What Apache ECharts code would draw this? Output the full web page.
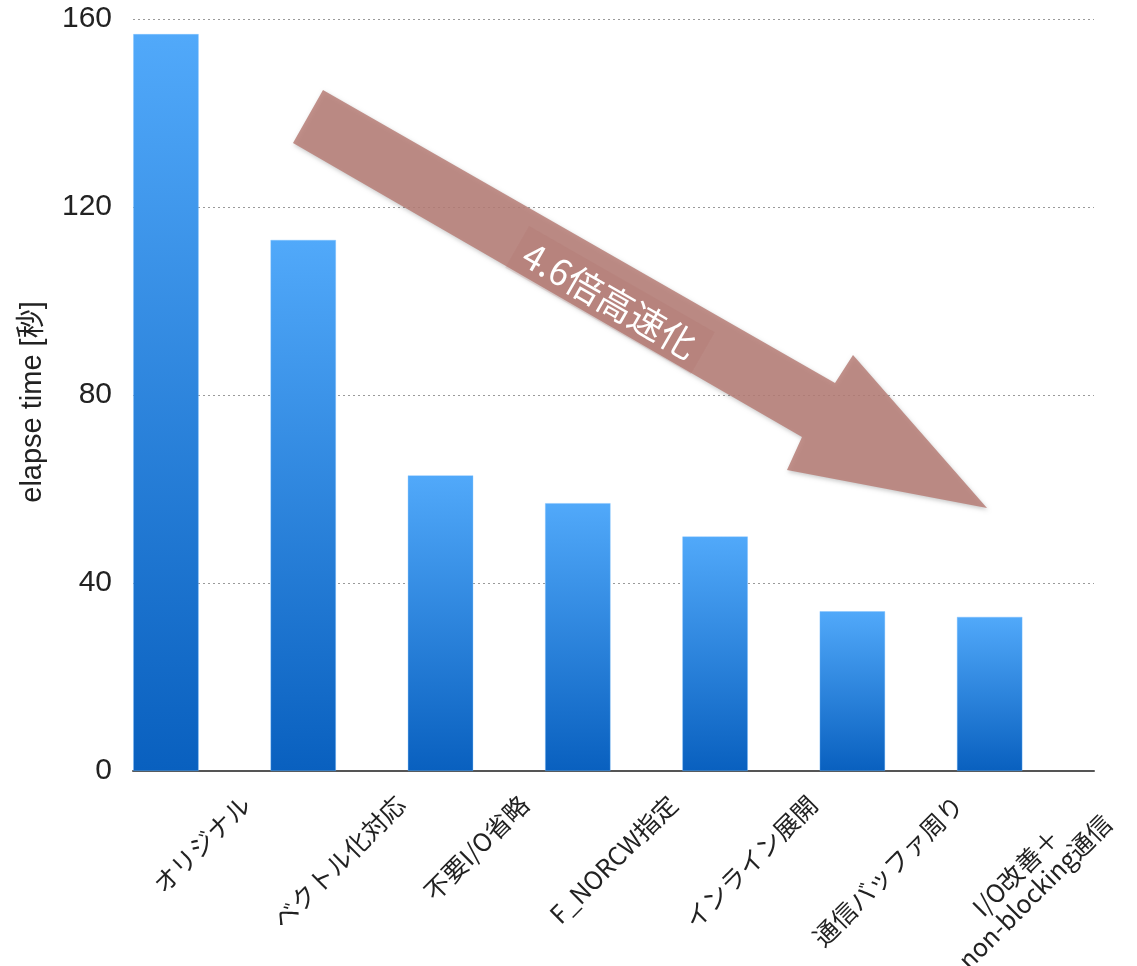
<!DOCTYPE html>
<html><head><meta charset="utf-8">
<script src="https://cdn.jsdelivr.net/npm/echarts@6/dist/echarts.min.js"></script>
<style>html,body{margin:0;padding:0;background:#fff}#c{width:1137px;height:966px}</style>
</head><body><div id="c"></div>
<script>
const categories = ['オリジナル','ベクトル化対応','不要I/O省略','F_NORCW指定','インライン展開','通信バッファ周り','I/O改善＋\nnon-blocking通信'];
const elapseSeconds = [156.8, 113.0, 62.9, 57.0, 49.9, 34.0, 32.8];
const yTicks = [0, 40, 80, 120, 160];
const yAxisTitle = 'elapse time [秒]';
const annotationText = '4.6倍高速化';

const LABEL_FONT = 25, LINE_H = 27;
const CJK = '"Noto Sans CJK JP", sans-serif';
const LATIN = '"Liberation Sans", "Noto Sans CJK JP", sans-serif';
const ctx = document.createElement('canvas').getContext('2d');
ctx.font = LABEL_FONT + 'px ' + CJK;
// centre each 45°-rotated label horizontally on its band, with the tops aligned
const xData = categories.map(t => {
  const lines = t.split('\n');
  const L = Math.max(...lines.map(s => ctx.measureText(s).width));
  const H = lines.length * LINE_H;
  const e = 0.25 * (L + H - LINE_H);
  return { value: t, textStyle: { align: 'center', verticalAlign: 'top', padding: [e - H / 2, 2 * e, 0, 0] } };
});

const chart = echarts.init(document.getElementById('c'), null, { renderer: 'canvas' });
const barGrad = new echarts.graphic.LinearGradient(0, 0, 0, 1, [
  { offset: 0, color: '#51A9FA' }, { offset: 1, color: '#0960BF' }
]);
chart.setOption({
  animation: false,
  backgroundColor: '#ffffff',
  grid: { left: 133, right: 43, top: 19, bottom: 195, containLabel: false, outerBoundsMode: 'none' },
  xAxis: {
    type: 'category', data: xData,
    axisLine: { lineStyle: { color: '#555', width: 2 } },
    axisTick: { show: false },
    axisLabel: {
      interval: 0, rotate: 45, hideOverlap: false,
      margin: 29, fontSize: LABEL_FONT, lineHeight: LINE_H, color: '#222', fontFamily: CJK
    },
    splitLine: { show: false }
  },
  yAxis: {
    type: 'value', min: yTicks[0], max: yTicks[yTicks.length - 1], interval: yTicks[1] - yTicks[0],
    name: yAxisTitle, nameLocation: 'middle', nameGap: 85, nameRotate: 90,
    nameTextStyle: { fontSize: 29, color: '#222', fontFamily: LATIN, padding: [0, 14, 0, 0] },
    axisLine: { show: false }, axisTick: { show: false },
    axisLabel: { fontSize: 30, color: '#222', margin: 21, fontFamily: LATIN },
    splitLine: { lineStyle: { type: [2, 3], color: '#9a9a9a', width: 1 } }
  },
  series: [
    { type: 'bar', name: 'elapse', data: elapseSeconds, barWidth: 65.5, barGap: '9%',
      itemStyle: { color: barGrad, borderColor: 'rgba(120,190,255,0.6)', borderWidth: 0.6 }, z: 3 },
    { type: 'bar', name: 'spacer', data: [], barWidth: 65.5, barGap: '9%' }
  ],
  graphic: [
    { type: 'polygon', z: 100,
      shape: { points: [[323, 90], [835, 383], [853, 355], [987, 508], [787, 470], [802, 437], [293, 143]] },
      style: { fill: 'rgba(183,126,119,0.85)', shadowBlur: 4, shadowColor: 'rgba(0,0,0,0.25)', shadowOffsetX: 1, shadowOffsetY: 2 } },
    { type: 'text', z: 101, x: 610, y: 300, rotation: -0.52,
      style: { text: annotationText, fill: '#ffffff', font: '36px ' + CJK,
        align: 'center', verticalAlign: 'middle',
        backgroundColor: 'rgba(170,105,98,0.18)', padding: [6, 10, 6, 10] } }
  ]
});
</script></body></html>
